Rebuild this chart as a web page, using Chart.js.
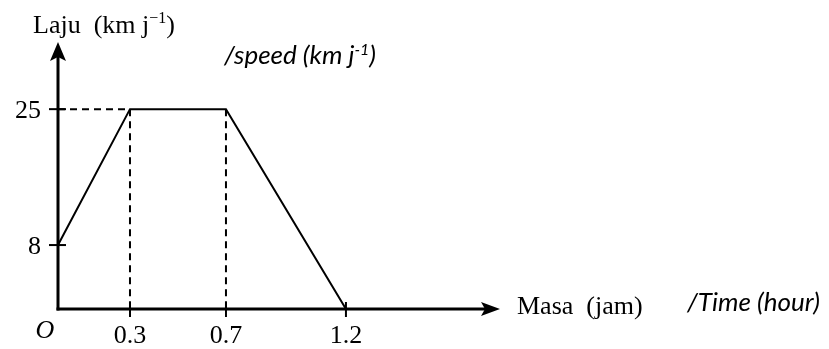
<!DOCTYPE html>
<html>
<head>
<meta charset="utf-8">
<script src="https://cdn.jsdelivr.net/npm/chart.js@4.4.1/dist/chart.umd.min.js"></script>
<style>
  html, body { margin: 0; padding: 0; background: #fff; }
  #wrap { width: 829px; height: 349px; }
</style>
</head>
<body>
<div id="wrap"><canvas id="speedTimeChart" width="829" height="349"></canvas></div>
<script>
// speed-time graph values
const times = [0, 0.3, 0.7, 1.2];
const speeds = [8, 25, 25, 0];

const xTicks = [0.3, 0.7, 1.2];
const xTickLabels = ["0.3", "0.7", "1.2"];
const yTicks = [8, 25];
const yTickLabels = ["8", "25"];

const serif = '"Liberation Serif", "Times New Roman", serif';
const sans = 'Lato, "Open Sans", "Noto Sans", sans-serif';

const pts = (xs, ys) => xs.map((x, i) => ({ x: x, y: ys[i] }));

// dashed guides to the corners of the plateau
const guideH = pts([0, times[1]], [speeds[1], speeds[1]]);
const guideA = pts([times[1], times[1]], [speeds[1], 0]);
const guideB = pts([times[2], times[2]], [speeds[2], 0]);

const dashed = (d) => ({
  data: d,
  borderColor: "#000",
  borderWidth: 2,
  borderDash: [7, 5],
  pointRadius: 0,
  fill: false,
  clip: false,
});

function drawSup(ctx, x, y, parts) {
  // parts: [text, font, dy]
  let cx = x;
  parts.forEach(p => {
    ctx.font = p[1];
    ctx.fillText(p[0], cx, y + p[2]);
    cx += ctx.measureText(p[0]).width;
  });
}

const axesPlugin = {
  id: "axesPlugin",
  beforeDatasetsDraw(chart) {
    const ctx = chart.ctx;
    const a = chart.chartArea;
    const xs = chart.scales.x, ys = chart.scales.y;
    const ox = xs.getPixelForValue(0), oy = ys.getPixelForValue(0);
    ctx.save();
    ctx.strokeStyle = "#000";
    ctx.fillStyle = "#000";
    ctx.lineWidth = 3;
    // y axis
    ctx.beginPath();
    ctx.moveTo(ox, oy + 1.5);
    ctx.lineTo(ox, a.top + 12);
    ctx.stroke();
    ctx.beginPath();
    ctx.moveTo(ox, a.top);
    ctx.lineTo(ox - 8, a.top + 19);
    ctx.lineTo(ox, a.top + 15);
    ctx.lineTo(ox + 8, a.top + 19);
    ctx.closePath();
    ctx.fill();
    // x axis
    ctx.beginPath();
    ctx.moveTo(ox - 1.5, oy);
    ctx.lineTo(a.right - 12, oy);
    ctx.stroke();
    ctx.beginPath();
    ctx.moveTo(a.right, oy);
    ctx.lineTo(a.right - 19, oy - 7);
    ctx.lineTo(a.right - 15, oy);
    ctx.lineTo(a.right - 19, oy + 7);
    ctx.closePath();
    ctx.fill();

    // tick marks
    ctx.lineWidth = 2;
    yTicks.forEach(v => {
      const py = ys.getPixelForValue(v);
      ctx.beginPath();
      ctx.moveTo(ox - 9, py);
      ctx.lineTo(ox + 8, py);
      ctx.stroke();
    });
    xTicks.forEach(v => {
      const px = xs.getPixelForValue(v);
      ctx.beginPath();
      ctx.moveTo(px, oy - 7);
      ctx.lineTo(px, oy + 8);
      ctx.stroke();
    });

    // tick labels
    ctx.font = "26px " + serif;
    ctx.textAlign = "right";
    ctx.textBaseline = "alphabetic";
    yTicks.forEach((v, i) => {
      ctx.fillText(yTickLabels[i], ox - 17, ys.getPixelForValue(v) + 9);
    });
    ctx.textAlign = "center";
    xTicks.forEach((v, i) => {
      ctx.fillText(xTickLabels[i], xs.getPixelForValue(v), oy + 34);
    });
    ctx.font = "italic 26px " + serif;
    ctx.fillText("O", ox - 13, oy + 29);

    // axis titles
    ctx.textAlign = "left";
    drawSup(ctx, 33, 33, [
      ["Laju  (km j", "26px " + serif, 0],
      ["\u22121", "16px " + serif, -10],
      [")", "26px " + serif, 0],
    ]);
    drawSup(ctx, 224, 64, [
      ["/speed (km j", "italic 26px " + sans, 0],
      ["-1", "italic 16px " + sans, -9],
      [")", "italic 26px " + sans, 0],
    ]);
    ctx.font = "26px " + serif;
    ctx.fillText("Masa  (jam)", 517, 314);
    ctx.font = "italic 26px " + sans;
    ctx.fillText("/Time (hour)", 687, 311);
    ctx.restore();
  },
};

const ctx = document.getElementById("speedTimeChart").getContext("2d");
const chart = new Chart(ctx, {
  type: "line",
  data: {
    datasets: [
      {
        data: pts(times, speeds),
        borderColor: "#000",
        borderWidth: 2,
        pointRadius: 0,
        tension: 0,
        fill: false,
        clip: false,
      },
      dashed(guideH),
      dashed(guideA),
      dashed(guideB),
    ],
  },
  options: {
    responsive: false,
    animation: false,
    layout: { padding: { left: 58, top: 42, right: 329, bottom: 40 } },
    plugins: { legend: { display: false }, tooltip: { enabled: false } },
    scales: {
      x: { type: "linear", min: 0, max: 1.842, display: false },
      y: { type: "linear", min: 0, max: 33.4, display: false },
    },
  },
  plugins: [axesPlugin],
});
</script>
</body>
</html>
